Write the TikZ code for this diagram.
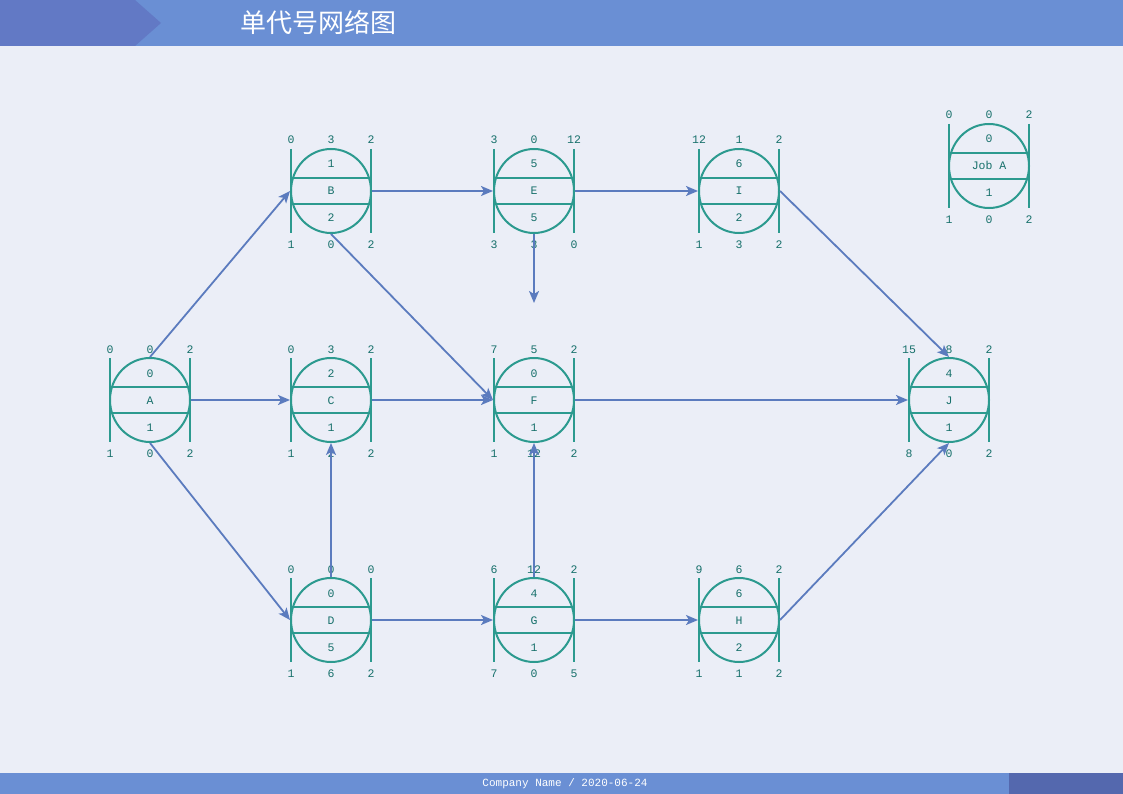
\documentclass[tikz,border=0pt]{standalone}
\usepackage{fontspec}
\setmonofont{Liberation Mono}
\newfontfamily\cjk{Noto Sans CJK SC}
\usepackage{xcolor}
\usetikzlibrary{positioning,arrows.meta,shapes.geometric}

\definecolor{pagebg}{HTML}{EBEEF7}
\definecolor{headblue}{HTML}{6A8FD4}
\definecolor{headdark}{HTML}{6279C5}
\definecolor{footdark}{HTML}{5468AE}
\definecolor{edgeblue}{HTML}{5B7BBE}
\definecolor{tealline}{HTML}{2C9A8F}
\definecolor{tealtext}{HTML}{17706B}

\begin{document}
\begin{tikzpicture}[x=1pt,y=-1pt,
    jobnode/.style={ellipse,draw=tealline,line width=2pt,minimum width=80pt,minimum height=84pt,inner sep=0pt},
    bar/.style={draw=tealline,line width=2pt},
    numtext/.style={text=tealtext,font=\ttfamily\fontsize{11.5}{13}\selectfont,inner sep=0pt,text height=8pt,text depth=0pt},
    link/.style={draw=edgeblue,line width=1.8pt,-{Stealth[length=12pt,width=10pt,inset=3pt]}}]
            % 背景
            \useasboundingbox (0,0) rectangle (1123,794);
            \fill[pagebg] (0,0) rectangle (1123,794);
            
            % 标题栏
            \fill[headblue] (0,0) rectangle (1123,46);
            \fill[headdark] (0,0) -- (135,0) -- (161,23) -- (135,46) -- (0,46) -- cycle;
            \node[text=white,font=\cjk\fontsize{26}{30}\selectfont] (title) at (318,22) {单代号网络图};
            
            % 页脚
            \fill[headblue] (0,773) rectangle (1123,794);
            \fill[footdark] (1009,773) rectangle (1123,794);
            \node[text=white,font=\ttfamily\fontsize{11}{12}\selectfont] (foot) at (565,784) {Company Name / 2020-06-24};
            
            % 工作节点
            \foreach \n/\x/\y/\tl/\tm/\tr/\ta/\nm/\tb/\bl/\bm/\br in {
                A/150/400/0/0/2/0/A/1/1/0/2,
                B/331/191/0/3/2/1/B/2/1/0/2,
                C/331/400/0/3/2/2/C/1/1/2/2,
                D/331/620/0/0/0/0/D/5/1/6/2,
                E/534/191/3/0/12/5/E/5/3/3/0,
                F/534/400/7/5/2/0/F/1/1/12/2,
                G/534/620/6/12/2/4/G/1/7/0/5,
                H/739/620/9/6/2/6/H/2/1/1/2,
                I/739/191/12/1/2/6/I/2/1/3/2,
                J/949/400/15/8/2/4/J/1/8/0/2,
                legend/989/166/0/0/2/0/Job A/1/1/0/2}
            {
                \node[jobnode] (\n) at (\x,\y) {};
                \draw[bar] (\x-40,\y-42) -- (\x-40,\y+42);
                \draw[bar] (\x+40,\y-42) -- (\x+40,\y+42);
                \draw[bar] (\x-40,\y-12.7) -- (\x+40,\y-12.7);
                \draw[bar] (\x-40,\y+12.7) -- (\x+40,\y+12.7);
                \node[numtext] (\n-ta) at (\x,\y-27) {\ta};
                \node[numtext] (\n-nm) at (\x,\y) {\nm};
                \node[numtext] (\n-tb) at (\x,\y+27) {\tb};
                \node[numtext] (\n-tl) at (\x-40,\y-51) {\tl};
                \node[numtext] (\n-tm) at (\x,\y-51) {\tm};
                \node[numtext] (\n-tr) at (\x+40,\y-51) {\tr};
                \node[numtext] (\n-bl) at (\x-40,\y+53) {\bl};
                \node[numtext] (\n-bm) at (\x,\y+53) {\bm};
                \node[numtext] (\n-br) at (\x+40,\y+53) {\br};
            }
            \coordinate (Eout) at (534,303);
            
            % 箭线
            \draw[link] (A.north) -- (B.west);
            \draw[link] (A.east) -- (C.west);
            \draw[link] (A.south) -- (D.west);
            \draw[link] (B.east) -- (E.west);
            \draw[link] (B.south) -- (F.west);
            \draw[link] (C.east) -- (F.west);
            \draw[link] (D.north) -- (C.south);
            \draw[link] (D.east) -- (G.west);
            \draw[link] (G.north) -- (F.south);
            \draw[link] (G.east) -- (H.west);
            \draw[link] (E.east) -- (I.west);
            \draw[link] (E.south) -- (Eout);
            \draw[link] (I.east) -- (J.north);
            \draw[link] (F.east) -- (J.west);
            \draw[link] (H.east) -- (J.south);
\end{tikzpicture}
\end{document}
